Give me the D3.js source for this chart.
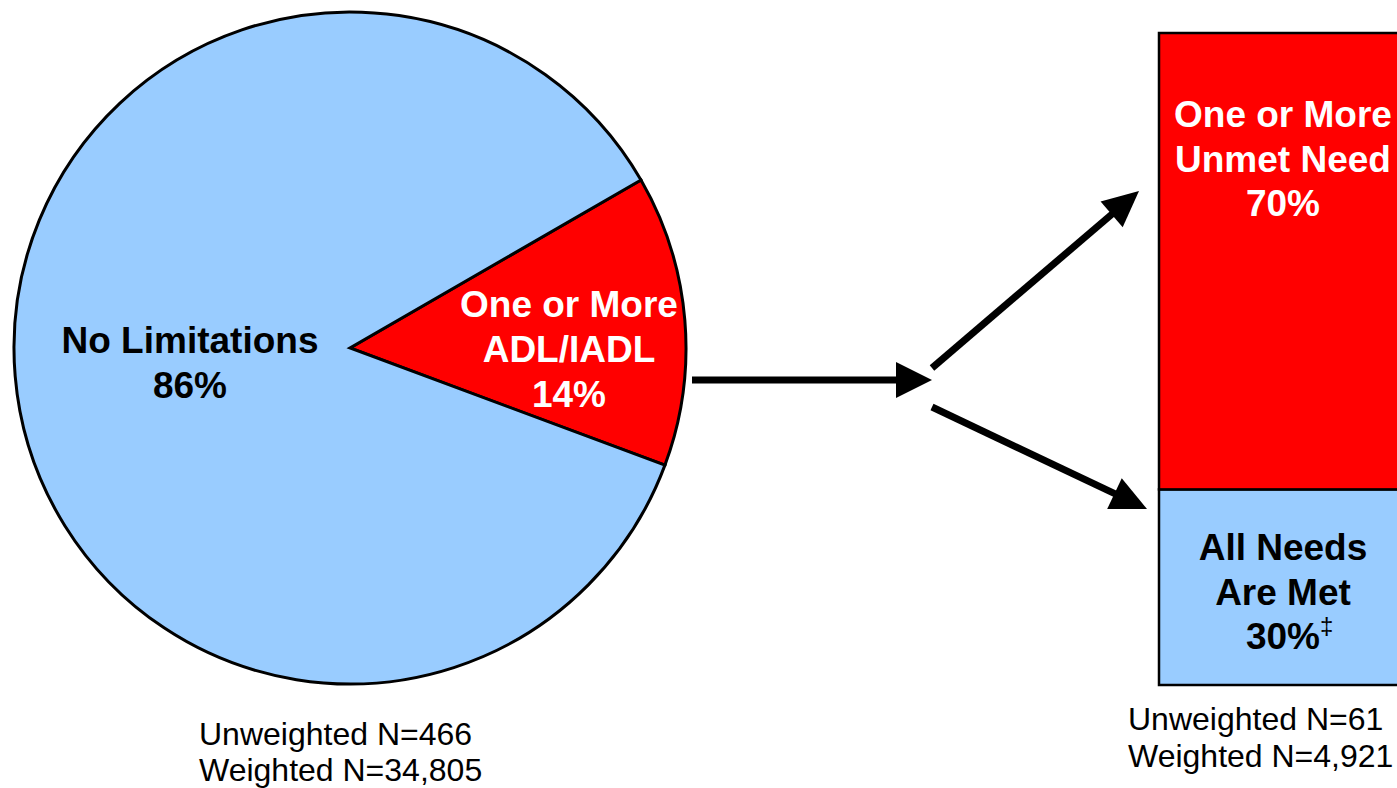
<!DOCTYPE html>
<html><head><meta charset="utf-8">
<script src="https://cdn.jsdelivr.net/npm/d3@7"></script>
<style>html,body{margin:0;padding:0;background:#fff;overflow:hidden}</style>
</head><body>
<svg id="chart" width="1397" height="788"></svg>
<script>
// ---- data ----
const pieCategories = ["One or More ADL/IADL", "No Limitations"];
const pieValues = [14, 86];
const pieLabelLines = [["One or More", "ADL/IADL", "14%"], ["No Limitations", "86%"]];
const barCategories = ["All Needs Are Met", "One or More Unmet Need"];
const barValues = [30, 70];
const barLabelLines = [["All Needs", "Are Met", "30%"], ["One or More", "Unmet Need", "70%"]];
const pieNotes = ["Unweighted N=466", "Weighted N=34,805"];
const barNotes = ["Unweighted N=61", "Weighted N=4,921"];

const RED = "#FF0000", BLUE = "#99CCFF";
const svg = d3.select("#chart");
const boldFont = "Liberation Sans, Arial, Helvetica, sans-serif";

// ---- pie ----
const cx = 350, cy = 348, R = 336;
const pie = d3.pie().sort(null).startAngle(Math.PI / 3).endAngle(Math.PI / 3 + 2 * Math.PI);
const arcs = pie(pieValues);
const arc = d3.arc().innerRadius(0).outerRadius(R);
const pg = svg.append("g").attr("transform", `translate(${cx},${cy})`);
pg.selectAll("path").data(arcs).join("path")
  .attr("d", arc)
  .attr("fill", (d, i) => i === 0 ? RED : BLUE)
  .attr("stroke", "#000").attr("stroke-width", 3).attr("stroke-linejoin", "miter");

// pie labels
const pieLabelPos = [{x: 569, y: 317, color: "#fff"}, {x: 190, y: 353, color: "#000"}];
pieLabelLines.forEach((lines, i) => {
  const t = svg.append("text").attr("font-family", boldFont).attr("font-weight", "bold")
    .attr("font-size", 37).attr("fill", pieLabelPos[i].color).attr("text-anchor", "middle");
  lines.forEach((ln, j) => t.append("tspan").attr("x", pieLabelPos[i].x).attr("y", pieLabelPos[i].y + j * 45).text(ln));
});

// ---- stacked bar ----
const y = d3.scaleLinear().domain([0, 100]).range([685, 33]);
const barX0 = 1159, barX1 = 1410;
let acc = 0;
const segs = barValues.map((v, i) => { const s = {i, y0: acc, y1: acc + v, v}; acc += v; return s; });
svg.selectAll("rect.seg").data(segs).join("rect").attr("class", "seg")
  .attr("x", barX0).attr("width", barX1 - barX0)
  .attr("y", d => y(d.y1)).attr("height", d => y(d.y0) - y(d.y1))
  .attr("fill", d => d.i === 0 ? BLUE : RED)
  .attr("stroke", "#000").attr("stroke-width", 2.5);

const barLabelPos = [{y: 560, color: "#000"}, {y: 127, color: "#fff"}];
barLabelLines.forEach((lines, i) => {
  const t = svg.append("text").attr("font-family", boldFont).attr("font-weight", "bold")
    .attr("font-size", 37).attr("fill", barLabelPos[i].color).attr("text-anchor", "middle");
  lines.forEach((ln, j) => {
    t.append("tspan").attr("x", 1283).attr("y", barLabelPos[i].y + j * 44.5).text(ln);
  });
});
// dagger superscript on 30%
svg.append("text").attr("font-family", boldFont).attr("font-size", 24).attr("fill", "#000")
  .attr("x", 1320).attr("y", 634).text("\u2021");

// ---- notes ----
const noteFont = "Liberation Sans, Arial, Helvetica, sans-serif";
pieNotes.forEach((n, j) => svg.append("text").attr("font-family", noteFont).attr("font-size", 32)
  .attr("x", 199).attr("y", 745 + j * 36).text(n));
barNotes.forEach((n, j) => svg.append("text").attr("font-family", noteFont).attr("font-size", 32)
  .attr("x", 1128).attr("y", 730 + j * 37).text(n));

// ---- arrows ----
function arrow(x0, y0, x1, y1, headLen, headHalf) {
  const dx = x1 - x0, dy = y1 - y0, L = Math.hypot(dx, dy);
  const ux = dx / L, uy = dy / L, px = -uy, py = ux;
  const bx = x1 - ux * headLen, by = y1 - uy * headLen;
  svg.append("line").attr("x1", x0).attr("y1", y0).attr("x2", bx + ux * 2).attr("y2", by + uy * 2)
    .attr("stroke", "#000").attr("stroke-width", 7);
  svg.append("polygon").attr("fill", "#000")
    .attr("points", [[x1, y1], [bx + px * headHalf, by + py * headHalf], [bx - px * headHalf, by - py * headHalf]].map(p => p.join(",")).join(" "));
}
arrow(692, 380, 932, 380, 36, 18);
arrow(932, 368, 1139, 191, 36, 17);
arrow(932, 407, 1147, 509, 36, 17);
</script>
</body></html>
